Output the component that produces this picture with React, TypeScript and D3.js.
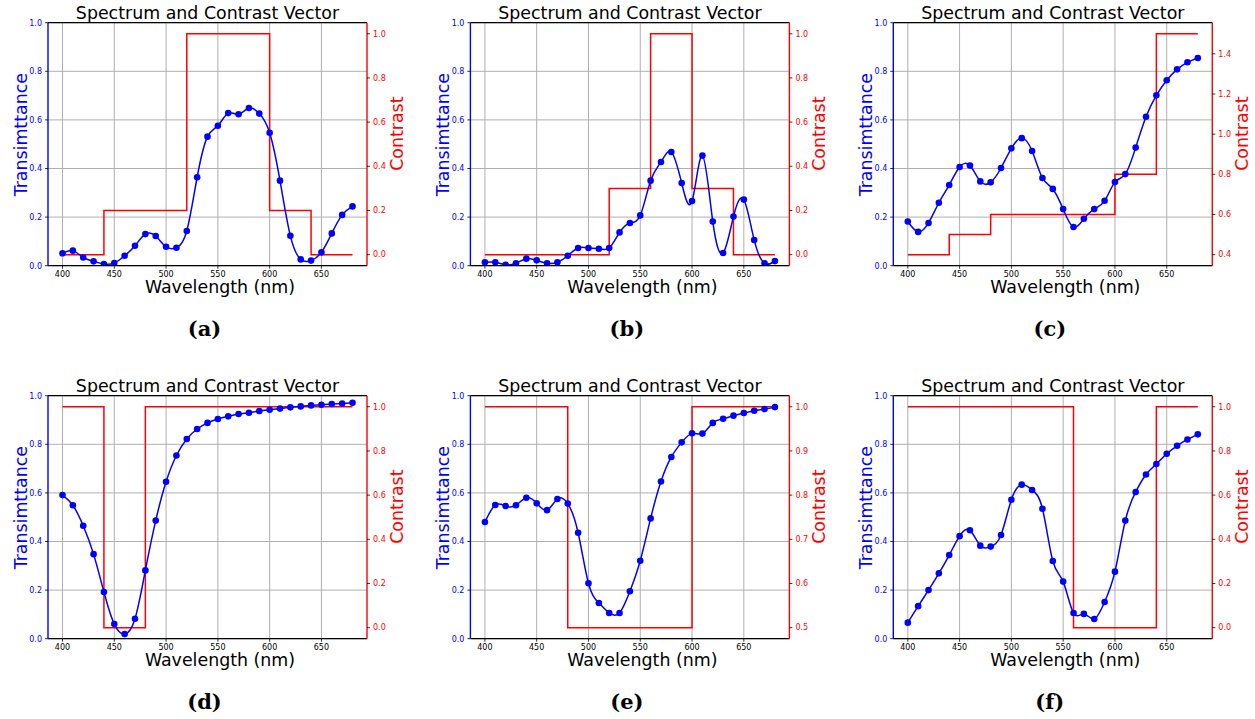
import React from "react";
import * as d3 from "d3";

const wavelengths = [400, 410, 420, 430, 440, 450, 460, 470, 480, 490, 500, 510, 520, 530, 540, 550, 560, 570, 580, 590, 600, 610, 620, 630, 640, 650, 660, 670, 680];
const bandEdges = [400, 440, 480, 520, 560, 600, 640, 680];
const xTicks = [400, 450, 500, 550, 600, 650];
const leftTicks = [0, 0.2, 0.4, 0.6, 0.8, 1.0];

const transA = [0.051, 0.062, 0.034, 0.018, 0.007, 0.011, 0.041, 0.082, 0.130, 0.122, 0.078, 0.074, 0.143, 0.364, 0.531, 0.576, 0.628, 0.623, 0.649, 0.626, 0.547, 0.350, 0.123, 0.026, 0.021, 0.055, 0.133, 0.209, 0.244];
const transB = [0.014, 0.014, 0.004, 0.010, 0.029, 0.022, 0.010, 0.014, 0.041, 0.073, 0.073, 0.070, 0.073, 0.137, 0.176, 0.207, 0.350, 0.427, 0.468, 0.340, 0.266, 0.453, 0.182, 0.052, 0.202, 0.272, 0.106, 0.010, 0.019];
const transC = [0.182, 0.139, 0.176, 0.259, 0.332, 0.406, 0.412, 0.347, 0.343, 0.402, 0.483, 0.525, 0.472, 0.361, 0.316, 0.233, 0.159, 0.193, 0.233, 0.267, 0.344, 0.377, 0.486, 0.613, 0.701, 0.763, 0.808, 0.837, 0.855];
const transD = [0.591, 0.549, 0.465, 0.348, 0.192, 0.060, 0.019, 0.082, 0.281, 0.486, 0.646, 0.754, 0.822, 0.863, 0.888, 0.904, 0.915, 0.925, 0.930, 0.937, 0.942, 0.947, 0.952, 0.956, 0.960, 0.963, 0.966, 0.968, 0.971];
const transE = [0.480, 0.550, 0.546, 0.549, 0.580, 0.557, 0.529, 0.575, 0.556, 0.436, 0.228, 0.147, 0.106, 0.106, 0.195, 0.321, 0.495, 0.647, 0.748, 0.808, 0.845, 0.844, 0.888, 0.905, 0.918, 0.929, 0.938, 0.945, 0.953];
const transF = [0.066, 0.134, 0.200, 0.269, 0.344, 0.422, 0.446, 0.383, 0.379, 0.427, 0.572, 0.634, 0.612, 0.535, 0.320, 0.235, 0.106, 0.102, 0.081, 0.151, 0.276, 0.486, 0.604, 0.676, 0.719, 0.761, 0.794, 0.820, 0.841];

const contrastA = [0, 0.2, 0.2, 1.0, 1.0, 0.2, 0, 0];
const contrastB = [0, 0, 0, 0.3, 1.0, 0.3, 0, 0];
const contrastC = [0.4, 0.5, 0.6, 0.6, 0.6, 0.8, 1.5, 1.5];
const contrastD = [1, 0, 1, 1, 1, 1, 1, 1];
const contrastE = [1, 1, 0.5, 0.5, 0.5, 1, 1, 1];
const contrastF = [1, 1, 1, 1, 0, 0, 1, 1];

const rightTicksA = [0, 0.2, 0.4, 0.6, 0.8, 1.0];
const rightTicksC = [0.4, 0.6, 0.8, 1.0, 1.2, 1.4];
const rightTicksE = [0.5, 0.6, 0.7, 0.8, 0.9, 1.0];

const panelLabels = ["(a)", "(b)", "(c)", "(d)", "(e)", "(f)"];

const panels = [
  { label: panelLabels[0], trans: transA, contrast: contrastA, rTicks: rightTicksA, col: 0, row: 0 },
  { label: panelLabels[1], trans: transB, contrast: contrastB, rTicks: rightTicksA, col: 1, row: 0 },
  { label: panelLabels[2], trans: transC, contrast: contrastC, rTicks: rightTicksC, col: 2, row: 0 },
  { label: panelLabels[3], trans: transD, contrast: contrastD, rTicks: rightTicksA, col: 0, row: 1 },
  { label: panelLabels[4], trans: transE, contrast: contrastE, rTicks: rightTicksE, col: 1, row: 1 },
  { label: panelLabels[5], trans: transF, contrast: contrastF, rTicks: rightTicksA, col: 2, row: 1 },
];

const colLefts = [48, 470.4, 893.3];
const rowTops = [22.7, 395.7];
const PW = 319;
const PH = 243;
const FONT = "'DejaVu Sans', sans-serif";
const BIG = 17.4;

function Panel({ p }: { p: any }) {
  const left = colLefts[p.col];
  const top = rowTops[p.row];
  const right = left + PW;
  const bottom = top + PH;
  const xs = d3.scaleLinear().domain([386, 694]).range([left, right]);
  const yl = d3.scaleLinear().domain([0, 1]).range([bottom, top]);
  const cmin = d3.min(p.contrast as number[])!;
  const cmax = d3.max(p.contrast as number[])!;
  const pad = (cmax - cmin) * 0.05;
  const yr = d3.scaleLinear().domain([cmin - pad, cmax + pad]).range([bottom, top]);
  const pts = wavelengths.map((w, i) => [w, p.trans[i]] as [number, number]);
  const line = d3.line<[number, number]>().x(d => xs(d[0])).y(d => yl(d[1])).curve(d3.curveNatural);
  const cpts = bandEdges.map((w, i) => [w, p.contrast[i]] as [number, number]);
  const step = d3.line<[number, number]>().x(d => xs(d[0])).y(d => yr(d[1])).curve(d3.curveStepAfter);
  const fmt = d3.format(".1f");
  const cx = (left + right) / 2;
  const cy = (top + bottom) / 2;
  return (
    <g>
      <defs>
        <clipPath id={`clip-${p.col}-${p.row}`}>
          <rect x={left} y={top} width={PW} height={PH} />
        </clipPath>
      </defs>
      {xTicks.map(t => (
        <line key={`gx${t}`} x1={xs(t)} x2={xs(t)} y1={top} y2={bottom} stroke="#b0b0b0" strokeWidth={1} />
      ))}
      {leftTicks.map(t => (
        <line key={`gy${t}`} x1={left} x2={right} y1={yl(t)} y2={yl(t)} stroke="#b0b0b0" strokeWidth={1} />
      ))}
      <g clipPath={`url(#clip-${p.col}-${p.row})`}>
        <path d={step(cpts)!} fill="none" stroke="#ff0000" strokeWidth={1.5} />
        <path d={line(pts)!} fill="none" stroke="#0000ff" strokeWidth={1.5} />
        {pts.map((d, i) => (
          <circle key={i} cx={xs(d[0])} cy={yl(d[1])} r={3.3} fill="#0000ff" />
        ))}
      </g>
      <line x1={left} x2={right} y1={top} y2={top} stroke="#000" strokeWidth={1.2} />
      <line x1={left} x2={right} y1={bottom} y2={bottom} stroke="#000" strokeWidth={1.2} />
      <line x1={left} x2={left} y1={top} y2={bottom} stroke="#0000ff" strokeWidth={1.4} />
      <line x1={right} x2={right} y1={top} y2={bottom} stroke="#ff0000" strokeWidth={1.4} />
      {xTicks.map(t => (
        <g key={`xt${t}`}>
          <line x1={xs(t)} x2={xs(t)} y1={bottom} y2={bottom + 3} stroke="#000" strokeWidth={0.8} />
          <text x={xs(t)} y={bottom + 5} dy="0.76em" textAnchor="middle" fontSize={8} fontFamily={FONT} fill="#000">{t}</text>
        </g>
      ))}
      {leftTicks.map(t => (
        <g key={`lt${t}`}>
          <line x1={left - 3} x2={left} y1={yl(t)} y2={yl(t)} stroke="#000" strokeWidth={0.8} />
          <text x={left - 6} y={yl(t)} dy="0.35em" textAnchor="end" fontSize={8} fontFamily={FONT} fill="#0000ff">{fmt(t)}</text>
        </g>
      ))}
      {p.rTicks.map((t: number) => (
        <g key={`rt${t}`}>
          <line x1={right} x2={right + 3} y1={yr(t)} y2={yr(t)} stroke="#000" strokeWidth={0.8} />
          <text x={right + 6} y={yr(t)} dy="0.35em" textAnchor="start" fontSize={8} fontFamily={FONT} fill="#ff0000">{fmt(t)}</text>
        </g>
      ))}
      <text x={cx} y={top - 3.5} textAnchor="middle" fontSize={BIG} fontFamily={FONT} fill="#000">Spectrum and Contrast Vector</text>
      <text x={cx + 12.5} y={bottom + 27.3} textAnchor="middle" fontSize={BIG} fontFamily={FONT} fill="#000">Wavelength (nm)</text>
      <text transform={`translate(${left - 21.5},${cy - 9.5}) rotate(-90)`} textAnchor="middle" fontSize={BIG} fontFamily={FONT} fill="#0000ff">Transimttance</text>
      <text transform={`translate(${right + 35.5},${cy - 10.5}) rotate(-90)`} textAnchor="middle" fontSize={BIG} fontFamily={FONT} fill="#ff0000">Contrast</text>
      <text x={cx - 3} y={bottom + 70.5} textAnchor="middle" fontSize={21} fontWeight="bold" fontFamily="'DejaVu Serif', serif" fill="#000">{p.label}</text>
    </g>
  );
}

export default function App() {
  return (
    <svg width={1255} height={719} style={{ position: "absolute", left: 0, top: 0, background: "#fff" }}>
      <rect width={1255} height={719} fill="#fff" />
      {panels.map(p => <Panel key={p.label} p={p} />)}
    </svg>
  );
}
